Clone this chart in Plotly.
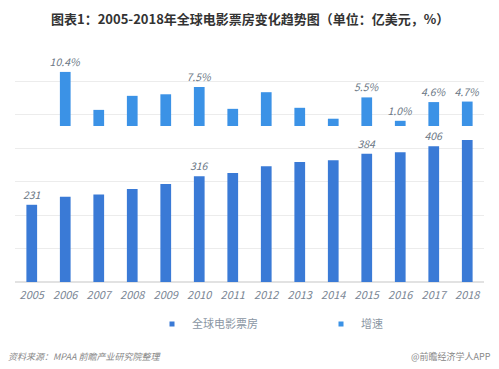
import plotly.graph_objects as go

years = ["2005", "2006", "2007", "2008", "2009", "2010", "2011",
         "2012", "2013", "2014", "2015", "2016", "2017", "2018"]
box_office = [231, 255, 262, 278, 293, 316, 326, 346, 359, 364, 384, 388, 406, 425]
growth = [None, 10.4, 3.1, 5.8, 6.1, 7.5, 3.3, 6.5, 3.5, 1.4, 5.5, 1.0, 4.6, 4.7]
box_labels = ["231", "", "", "", "", "316", "", "", "", "", "384", "", "406", ""]
growth_labels = ["", "10.4%", "", "", "", "7.5%", "", "", "", "", "5.5%", "1.0%", "4.6%", "4.7%"]

title = "图表1：2005-2018年全球电影票房变化趋势图（单位：亿美元，%）"
source = "资料来源：MPAA 前瞻产业研究院整理"
brand = "@前瞻经济学人APP"

FONT = "Noto Sans CJK SC"
BOX_COLOR = "#3a7ad6"
GROWTH_COLOR = "#3b92e6"
label_font = dict(family=FONT, size=10.5, color="#6b7785", style="italic")

fig = go.Figure()
fig.add_trace(go.Bar(
    x=years, y=box_office, name="全球电影票房",
    marker=dict(color=BOX_COLOR, line=dict(width=0)),
    width=0.32, text=box_labels, textposition="outside", constraintext="none",
    textfont=label_font, cliponaxis=False, yaxis="y", showlegend=False,
))
fig.add_trace(go.Bar(
    x=years, y=growth, name="增速",
    marker=dict(color=GROWTH_COLOR, line=dict(width=0)),
    width=0.32, text=growth_labels, textposition="outside", constraintext="none",
    textfont=label_font, cliponaxis=False, yaxis="y2", showlegend=False,
))
# legend entries with small square symbols
fig.add_trace(go.Scatter(x=[None], y=[None], mode="markers", name="全球电影票房",
                         marker=dict(symbol="square", size=5, color=BOX_COLOR)))
fig.add_trace(go.Scatter(x=[None], y=[None], mode="markers", name="增速",
                         marker=dict(symbol="square", size=5, color=GROWTH_COLOR)))

# page offset (browser body margin) = 8px; plot area in page coords: x 15..484, y 48..282
OFF = 8
W, H = 499 - OFF, 369 - OFF
L, R, T, B = 15 - OFF, 499 - 484, 48 - OFF, 369 - 282
PH, PW = 234.0, 469.0


def ypix(py):
    return (282 - py) / PH


def xpix(px):
    return (px - 15) / PW


fig.update_layout(
    width=W, height=H,
    margin=dict(l=L, r=R, t=T, b=B, autoexpand=False),
    paper_bgcolor="white", plot_bgcolor="white",
    barmode="overlay",
    showlegend=True,
    legend=dict(orientation="h", x=xpix(152), xanchor="left", y=ypix(324), yanchor="middle",
                font=dict(family=FONT, size=11, color="#8a96a3"),
                itemwidth=30, entrywidth=124, itemclick=False,
                bgcolor="rgba(0,0,0,0)"),
    xaxis=dict(type="category", tickfont=dict(family=FONT, size=11, color="#7a8694", style="italic"),
               showgrid=False, showline=False, ticks="", zeroline=False, ticklabelstandoff=5),
    yaxis=dict(range=[0, 700], dtick=100, showticklabels=False, showgrid=True,
               gridcolor="#ececec", gridwidth=1, zeroline=True, zerolinecolor="#e2e2e2",
               showline=False),
    yaxis2=dict(range=[-30, 15], overlaying="y", showticklabels=False,
                showgrid=False, zeroline=False, showline=False),
    annotations=[
        dict(text="<b>" + title + "</b>", x=0.5, xanchor="center", y=ypix(18.5), yanchor="middle",
             xref="paper", yref="paper",
             showarrow=False, font=dict(family=FONT, size=13, color="#333333")),
        dict(text=source, x=xpix(6), xref="paper", y=ypix(356), yref="paper",
             showarrow=False, xanchor="left", yanchor="middle",
             font=dict(family=FONT, size=9, color="#888888", style="italic")),
        dict(text=brand, x=xpix(493), xref="paper", y=ypix(356), yref="paper",
             showarrow=False, xanchor="right", yanchor="middle",
             font=dict(family=FONT, size=9, color="#888888")),
    ],
)

fig.write_html("out.html")
